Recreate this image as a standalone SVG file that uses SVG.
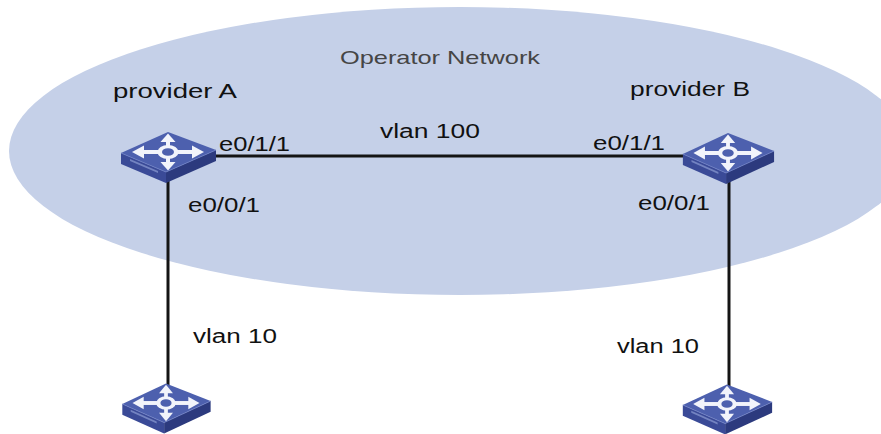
<svg xmlns="http://www.w3.org/2000/svg" xmlns:xlink="http://www.w3.org/1999/xlink" width="881" height="434" viewBox="0 0 881 434">
<style>
.lbl{font-family:"Liberation Sans",Arial,sans-serif;font-size:19.5px;fill:#111;}
.title{font-family:"Liberation Sans",Arial,sans-serif;font-size:18.5px;fill:#454545;}
.link{stroke:#141414;stroke-width:3;fill:none;}
.top{fill:#4d60ae;}
.lf{fill:#3a4a97;}
.rf{fill:#2c3a7e;}
.wh{fill:#f2f4fb;}
</style>
<defs>
<g id="switch">
<polygon class="lf" points="-47,1 -2,20 -2,31 -47,12"/>
<polygon class="rf" points="-2,20 48,-2 48,9 -2,31"/>
<polygon class="top" points="-47,1 0,-20 48,-2 -2,20"/>
<polyline points="-47,1 -2,20 48,-2" fill="none" stroke="#6f80c4" stroke-width="0.8"/>
<polygon points="-38,7 -10,19 -10,21 -38,9" fill="#8c9bd3" opacity="0.7"/>
<g class="wh">
<rect x="-25" y="-2" width="50" height="4"/>
<polygon points="-36,0 -24,-6.5 -24,6.5"/>
<polygon points="36,0 24,-6.5 24,6.5"/>
<rect x="-2" y="-12" width="4" height="24"/>
<polygon points="0,-18.5 -7.5,-10 7.5,-10"/>
<polygon points="0,18.5 -7.5,10 7.5,10"/>
<ellipse cx="0" cy="0" rx="10.5" ry="7"/>
</g>
<ellipse class="top" cx="0" cy="0" rx="6" ry="3.8"/>
</g>
</defs>

<g id="operator-network">
<ellipse cx="460" cy="151" rx="451" ry="144" fill="#c5d0e8"/>
<text class="title" x="340" y="64" textLength="200" lengthAdjust="spacingAndGlyphs">Operator Network</text>
</g>

<g id="connectors">
<line class="link" x1="214" y1="156" x2="684" y2="156"/>
<line class="link" x1="168" y1="178" x2="168" y2="390"/>
<line class="link" x1="729" y1="180" x2="729" y2="390"/>
<text class="lbl" x="380" y="138" textLength="100" lengthAdjust="spacingAndGlyphs">vlan 100</text>
<text class="lbl" x="219" y="151" textLength="71" lengthAdjust="spacingAndGlyphs">e0/1/1</text>
<text class="lbl" x="593" y="150" textLength="72" lengthAdjust="spacingAndGlyphs">e0/1/1</text>
<text class="lbl" x="188" y="212" textLength="72" lengthAdjust="spacingAndGlyphs">e0/0/1</text>
<text class="lbl" x="638" y="210" textLength="72" lengthAdjust="spacingAndGlyphs">e0/0/1</text>
<text class="lbl" x="193" y="343" textLength="84" lengthAdjust="spacingAndGlyphs">vlan 10</text>
<text class="lbl" x="617" y="353" textLength="82" lengthAdjust="spacingAndGlyphs">vlan 10</text>
</g>

<g id="provider-a">
<use xlink:href="#switch" href="#switch" transform="translate(168,152)"/>
<text class="lbl" x="113" y="98" style="font-size:20.5px" textLength="124" lengthAdjust="spacingAndGlyphs">provider A</text>
</g>

<g id="provider-b">
<use xlink:href="#switch" href="#switch" transform="translate(728,153) scale(0.96,1)"/>
<text class="lbl" x="630" y="96" style="font-size:20.5px" textLength="120" lengthAdjust="spacingAndGlyphs">provider B</text>
</g>

<g id="customer-a">
<use xlink:href="#switch" href="#switch" transform="translate(166,403) scale(0.93,0.98)"/>
</g>

<g id="customer-b">
<use xlink:href="#switch" href="#switch" transform="translate(727,404) scale(0.94,0.98)"/>
</g>
</svg>
